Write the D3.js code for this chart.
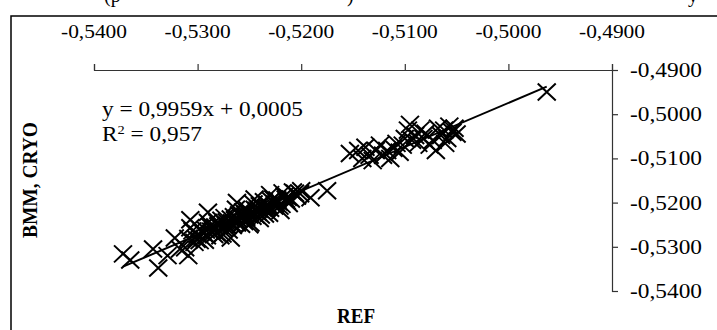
<!DOCTYPE html>
<html>
<head>
<meta charset="utf-8">
<script src="https://cdn.jsdelivr.net/npm/d3@7"></script>
<style>
  html, body { margin: 0; padding: 0; background: #fff; }
  svg { display: block; font-family: "Liberation Serif", "Times New Roman", serif; }
</style>
</head>
<body>
<svg id="chart" width="717" height="330"></svg>
<script>
// ---- data ----
const refValues = [
  -0.5372,-0.5365,-0.5343,-0.5338,-0.5329,-0.5322,-0.5317,-0.5309,-0.5307,-0.5298,
  -0.5312,-0.5305,-0.5301,-0.5296,-0.5293,-0.5290,-0.5287,-0.5284,-0.5281,-0.5279,-0.5276,-0.5274,-0.5271,-0.5268,-0.5266,-0.5263,-0.5261,-0.5258,-0.5256,-0.5253,-0.5251,-0.5249,-0.5246,-0.5244,-0.5241,-0.5239,-0.5236,-0.5234,-0.5231,-0.5229,-0.5226,-0.5224,-0.5221,-0.5218,-0.5215,-0.5212,-0.5208,-0.5204,-0.5200,
  -0.5309,-0.5303,-0.5298,-0.5294,-0.5291,-0.5288,-0.5285,-0.5282,-0.5280,-0.5277,-0.5275,-0.5272,-0.5270,-0.5267,-0.5265,-0.5262,-0.5260,-0.5257,-0.5255,-0.5252,-0.5250,-0.5247,-0.5245,-0.5242,-0.5240,-0.5237,-0.5235,-0.5232,-0.5230,-0.5227,-0.5225,-0.5222,-0.5219,-0.5216,-0.5213,-0.5210,-0.5206,
  -0.5300,-0.5292,-0.5283,-0.5273,-0.5264,-0.5254,-0.5243,-0.5233,-0.5223,-0.5214,
  -0.5290,-0.5262,-0.5250,-0.5240,-0.5278,-0.5230,-0.5307,-0.5220,-0.5245,-0.5268,
  -0.5201,-0.5191,-0.5175,
  -0.5153,-0.5145,-0.5141,-0.5138,-0.5134,-0.5131,-0.5128,-0.5124,-0.5121,-0.5117,-0.5114,-0.5111,-0.5108,-0.5105,-0.5102,-0.5100,-0.5097,-0.5095,-0.5093,-0.5090,-0.5087,-0.5085,-0.5082,-0.5080,-0.5076,-0.5073,-0.5070,-0.5068,-0.5065,-0.5062,-0.5059,-0.5057,-0.5054,-0.5052,-0.5050,-0.5061,
  -0.4963
];
const cryoValues = [
  -0.5316,-0.5330,-0.5305,-0.5348,-0.5320,-0.5280,-0.5305,-0.5320,-0.5257,-0.5286,
  -0.5302,-0.5264,-0.5283,-0.5266,-0.5285,-0.5245,-0.5265,-0.5272,-0.5245,-0.5252,-0.5271,-0.5234,-0.5252,-0.5237,-0.5252,-0.5215,-0.5237,-0.5249,-0.5221,-0.5233,-0.5222,-0.5246,-0.5203,-0.5228,-0.5215,-0.5228,-0.5198,-0.5213,-0.5224,-0.5196,-0.5208,-0.5196,-0.5208,-0.5178,-0.5192,-0.5202,-0.5176,-0.5185,-0.5173,
  -0.5281,-0.5290,-0.5259,-0.5270,-0.5275,-0.5254,-0.5262,-0.5268,-0.5253,-0.5240,-0.5258,-0.5244,-0.5262,-0.5246,-0.5232,-0.5246,-0.5228,-0.5232,-0.5243,-0.5216,-0.5228,-0.5231,-0.5215,-0.5222,-0.5207,-0.5213,-0.5226,-0.5205,-0.5213,-0.5192,-0.5203,-0.5198,-0.5204,-0.5185,-0.5188,-0.5192,-0.5179,
  -0.5272,-0.5262,-0.5255,-0.5250,-0.5239,-0.5226,-0.5218,-0.5210,-0.5194,-0.5196,
  -0.5222,-0.5200,-0.5250,-0.5236,-0.5275,-0.5182,-0.5239,-0.5218,-0.5192,-0.5280,
  -0.5180,-0.5189,-0.5173,
  -0.5089,-0.5082,-0.5100,-0.5075,-0.5093,-0.5105,-0.5082,-0.5070,-0.5093,-0.5082,-0.5100,-0.5077,-0.5066,-0.5086,-0.5070,-0.5055,-0.5036,-0.5023,-0.5059,-0.5048,-0.5066,-0.5036,-0.5055,-0.5043,-0.5070,-0.5059,-0.5082,-0.5032,-0.5048,-0.5036,-0.5055,-0.5027,-0.5041,-0.5032,-0.5045,-0.5066,
  -0.4950
];
const xTickValues = [-0.54, -0.53, -0.52, -0.51, -0.50, -0.49];
const yTickValues = [-0.49, -0.50, -0.51, -0.52, -0.53, -0.54];
const trendSlope = 0.9959;
const trendIntercept = 0.0005;
const rSquared = 0.957;
const xTitle = "REF";
const yTitle = "BMM, CRYO";

// ---- drawing ----
const svg = d3.select("#chart");
const locale = d3.formatLocale({decimal: ",", thousands: " ", grouping: [3], currency: ["", ""], minus: "-"});
const fmt4 = locale.format(".4f");
const fmt3 = locale.format(".3f");

const x = d3.scaleLinear().domain([-0.54, -0.49]).range([94, 612]);
const y = d3.scaleLinear().domain([-0.54, -0.49]).range([291, 70]);

// cut-off text line above the chart frame (only its lower part is visible)
[["(p", 104], [")", 347], ["y", 688]].forEach(([t, px]) => {
  svg.append("text").attr("x", px).attr("y", 2).attr("font-size", 20).attr("fill", "#000").text(t);
});

// chart frame
svg.append("rect").attr("x", 11).attr("y", 16).attr("width", 760).attr("height", 400)
  .attr("fill", "none").attr("stroke", "#000").attr("stroke-width", 1.5);

// top x axis (ticks only)
const gx = svg.append("g").attr("transform", "translate(0,70)")
  .call(d3.axisTop(x).tickValues(xTickValues).tickSize(6).tickSizeOuter(6).tickFormat(""));
gx.selectAll("path, line").attr("stroke", "#333").attr("stroke-width", 1.2);

// x tick labels
svg.append("g").selectAll("text").data(xTickValues).join("text")
  .attr("x", d => x(d)).attr("y", 38)
  .attr("text-anchor", "middle").attr("font-size", 19)
  .attr("textLength", 66).attr("lengthAdjust", "spacingAndGlyphs")
  .text(d => fmt4(d));

// right y axis (ticks only)
const gy = svg.append("g").attr("transform", "translate(612,0)")
  .call(d3.axisRight(y).tickValues(yTickValues).tickSize(6).tickSizeOuter(6).tickFormat(""));
gy.selectAll("path, line").attr("stroke", "#333").attr("stroke-width", 1.2);

// y tick labels
svg.append("g").selectAll("text").data(yTickValues).join("text")
  .attr("x", 630).attr("y", d => y(d) + 7)
  .attr("font-size", 20)
  .attr("textLength", 72).attr("lengthAdjust", "spacingAndGlyphs")
  .text(d => fmt4(d));

// trendline
const data = refValues.map((r, i) => ({ref: r, cryo: cryoValues[i]}));
const xr = d3.extent(refValues);
svg.append("path")
  .datum(xr.map(v => [v, trendSlope * v + trendIntercept]))
  .attr("d", d3.line().x(d => x(d[0])).y(d => y(d[1])))
  .attr("fill", "none").attr("stroke", "#000").attr("stroke-width", 2);

// markers (x shapes)
const hw = 9, hh = 8.5;
svg.append("g").selectAll("path").data(data).join("path")
  .attr("transform", d => `translate(${x(d.ref)},${y(d.cryo)})`)
  .attr("d", `M${-hw},${-hh}L${hw},${hh}M${-hw},${hh}L${hw},${-hh}`)
  .attr("fill", "none").attr("stroke", "#000").attr("stroke-width", 2);

// regression label
const eq = svg.append("g").attr("transform", "translate(102,0) scale(1.11,1)");
eq.append("text").attr("x", 0).attr("y", 116).attr("font-size", 21)
  .text(`y = ${locale.format(".4f")(trendSlope)}x + ${fmt4(trendIntercept)}`);
const r2 = eq.append("text").attr("x", 0).attr("y", 141.5).attr("font-size", 21);
r2.append("tspan").text("R");
r2.append("tspan").attr("font-size", 13).attr("dy", -7).text("2");
r2.append("tspan").attr("dy", 7).text(` = ${fmt3(rSquared)}`);

// axis titles
svg.append("text").attr("x", 356).attr("y", 323).attr("text-anchor", "middle")
  .attr("font-size", 20).attr("font-weight", "bold")
  .attr("textLength", 38).attr("lengthAdjust", "spacingAndGlyphs").text(xTitle);
svg.append("text").attr("transform", "translate(37,180) rotate(-90)")
  .attr("text-anchor", "middle").attr("font-size", 20).attr("font-weight", "bold")
  .attr("textLength", 116).attr("lengthAdjust", "spacingAndGlyphs").text(yTitle);
</script>
</body>
</html>
